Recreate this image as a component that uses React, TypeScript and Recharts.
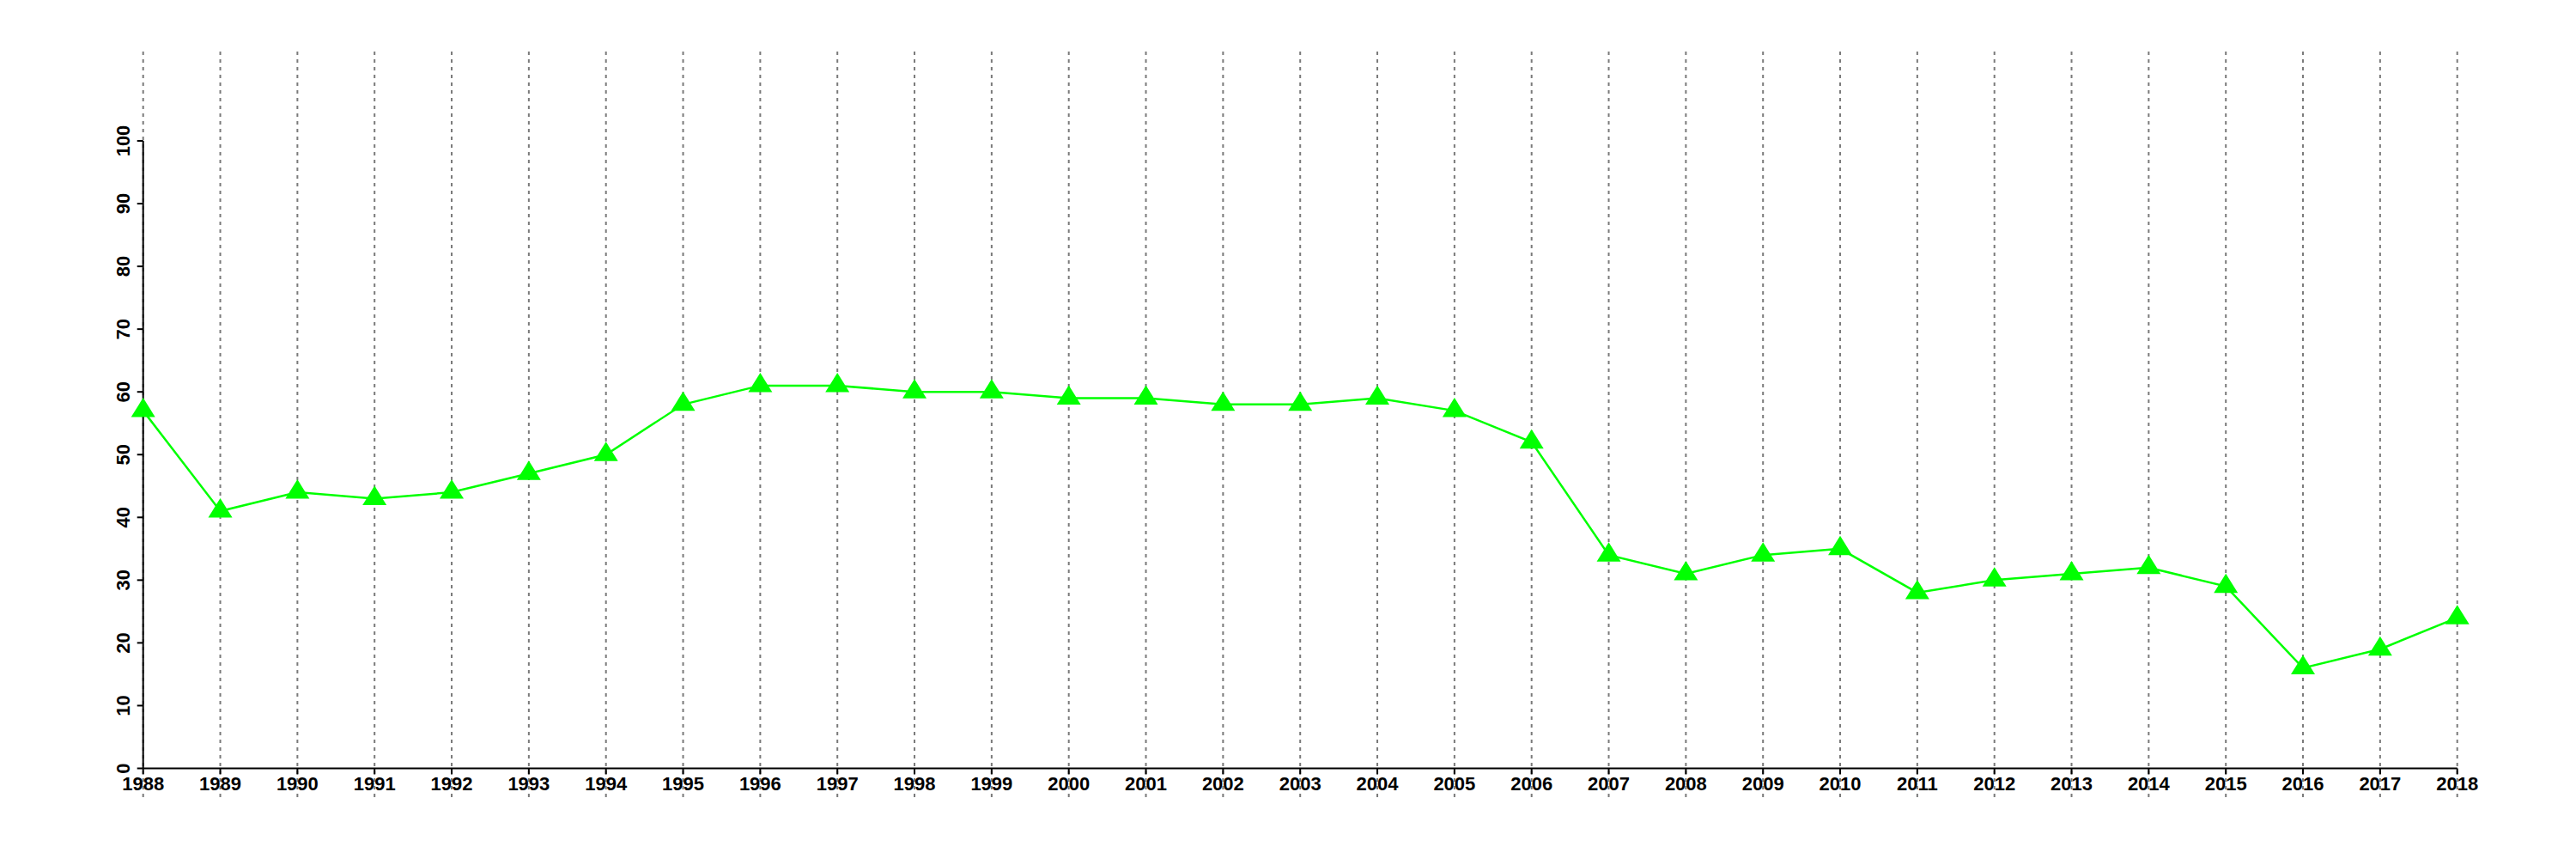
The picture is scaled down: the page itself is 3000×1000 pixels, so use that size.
import React from 'react';
import { LineChart, Line, XAxis, YAxis, CartesianGrid } from 'recharts';

const years: number[] = [
  1988, 1989, 1990, 1991, 1992, 1993, 1994, 1995, 1996, 1997, 1998,
  1999, 2000, 2001, 2002, 2003, 2004, 2005, 2006, 2007, 2008, 2009,
  2010, 2011, 2012, 2013, 2014, 2015, 2016, 2017, 2018,
];

const values: number[] = [
  57, 41, 44, 43, 44, 47, 50, 58, 61, 61, 60,
  60, 59, 59, 58, 58, 59, 57, 52, 34, 31, 34,
  35, 28, 30, 31, 32, 29, 16, 19, 24,
];

const yTicks: number[] = [0, 10, 20, 30, 40, 50, 60, 70, 80, 90, 100];

const data = years.map((year, i) => ({ year, value: values[i] }));

const FONT = '"Liberation Sans", Arial, Helvetica, sans-serif';

const YTick = (props: any) => {
  const { x, y, payload } = props;
  return (
    <text
      x={x}
      y={y}
      transform={`rotate(-90, ${x}, ${y})`}
      textAnchor="middle"
      fill="#000"
      fontSize={22}
      fontWeight="bold"
      fontFamily={FONT}
    >
      {payload.value}
    </text>
  );
};

const TriangleDot = (props: any) => {
  const { cx, cy, index } = props;
  if (cx == null || cy == null) return <g key={`d-${index}`} />;
  const w = 28;
  const h = 22.5;
  const pts = `${cx - w / 2},${cy + h / 3} ${cx + w / 2},${cy + h / 3} ${cx},${cy - (2 * h) / 3}`;
  return <polygon key={`d-${index}`} points={pts} fill="#00ff00" stroke="none" />;
};

const GridLine = (props: any) => {
  const top = Math.min(props.y1, props.y2);
  const bottom = Math.max(props.y1, props.y2);
  return (
    <line
      key={props.key ?? `g-${props.index}`}
      x1={props.x1}
      x2={props.x2}
      y1={top - 104}
      y2={bottom + 33.5}
      stroke="#7a7a7a"
      strokeWidth={2}
      strokeDasharray="4 5"
    />
  );
};

export default function App() {
  return (
    <div style={{ position: 'absolute', left: 0, top: 0, background: '#fff' }}>
      <LineChart
        width={3000}
        height={1000}
        data={data}
        margin={{ top: 164, right: 138.3, bottom: 65.5, left: 106.7 }}
      >
        <CartesianGrid horizontal={false} vertical={GridLine} />
        <XAxis
          dataKey="year"
          type="number"
          domain={[1988, 2018]}
          ticks={years}
          interval={0}
          height={40}
          tickSize={7}
          tickMargin={3}
          axisLine={{ stroke: '#000', strokeWidth: 2 }}
          tickLine={{ stroke: '#000', strokeWidth: 2 }}
          tick={{ fill: '#000', fontSize: 22, fontWeight: 'bold', fontFamily: FONT }}
        />
        <YAxis
          type="number"
          domain={[0, 100]}
          ticks={yTicks}
          interval={0}
          width={60}
          tickSize={7}
          tickMargin={8.7}
          axisLine={{ stroke: '#000', strokeWidth: 2 }}
          tickLine={{ stroke: '#000', strokeWidth: 2 }}
          tick={<YTick />}
        />
        <Line
          type="linear"
          dataKey="value"
          stroke="#00ff00"
          strokeWidth={2.5}
          dot={TriangleDot}
          activeDot={false}
          isAnimationActive={false}
        />
      </LineChart>
    </div>
  );
}
